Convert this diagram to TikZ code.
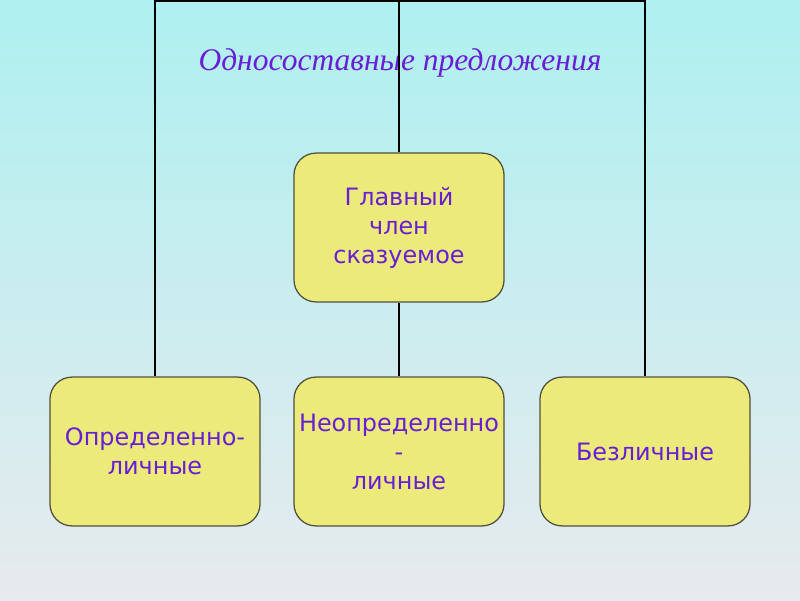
\documentclass[tikz,border=0pt]{standalone}
\usepackage{fontspec}
\setmainfont{Liberation Serif}
\newfontfamily\boxfont{DejaVu Sans}
\usepackage{tikz}
\usetikzlibrary{positioning}

\definecolor{bgtop}{RGB}{174,240,240}
\definecolor{bgmid}{RGB}{210,225,232}
\definecolor{bgbot}{RGB}{231,234,238}
\definecolor{boxfill}{RGB}{236,234,122}
\definecolor{boxline}{RGB}{80,80,60}
\definecolor{textpurple}{RGB}{104,30,214}

\begin{document}
\begin{tikzpicture}[
    x=0.025cm, y=-0.025cm,
    kind/.style={rectangle, draw=boxline, line width=0.9pt, rounded corners=0.55cm,
      fill=boxfill, align=center, minimum width=5.25cm, minimum height=3.72cm,
      text=textpurple, font=\boxfont\fontsize{17}{20.6}\selectfont},
    link/.style={line width=1.5pt, black}
]
% background
\shade[top color=bgtop, middle color=bgmid, bottom color=bgbot]
  (0,0) rectangle (800,600);
\useasboundingbox (0,0) rectangle (800,600);

\node[text=textpurple, font=\itshape\fontsize{22.4}{26}\selectfont] (title) at (400,63)
  {Односоставные предложения};

% boxes
\node[kind] (glav) at (399,227.5) {Главный\\член\\сказуемое};
\node[kind] (neop) at (399,451.5) {Неопределенно\\-\\личные};
\node[kind] (opred) at (155,451.5) {Определенно-\\личные};
\node[kind] (bezl) at (645,451.5) {Безличные};

% frame lines
\coordinate (topl) at (155,1);
\coordinate (topr) at (645,1);
\draw[link] (opred.north) -- (topl) -- (topr) -- (bezl.north);
\draw[link] (glav.north) -- (glav.north |- topl);
\draw[link] (glav.south) -- (neop.north);
\end{tikzpicture}
\end{document}
